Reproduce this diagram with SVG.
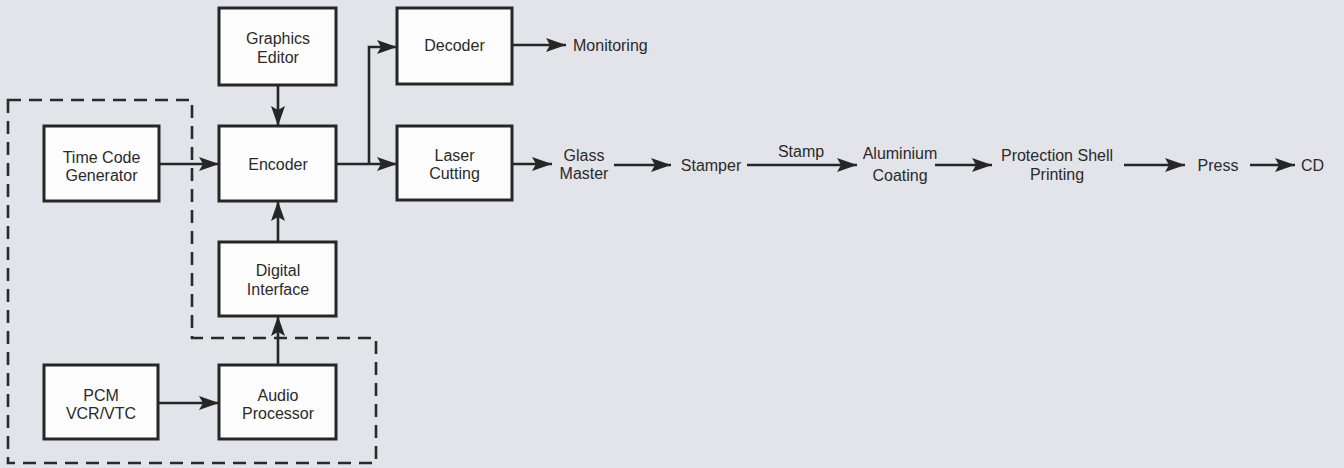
<svg xmlns="http://www.w3.org/2000/svg" width="1344" height="468" viewBox="0 0 1344 468">
  <style>
    .box { fill: #fdfdfd; stroke: #262626; stroke-width: 3; }
    .wire { fill: none; stroke: #262626; stroke-width: 2.6; }
    .dash { fill: none; stroke: #2a2a2a; stroke-width: 2.6; stroke-dasharray: 13 8; }
    text { font-family: "Liberation Sans", Arial, Helvetica, sans-serif; font-size: 16px; fill: #2a2a2a; text-anchor: middle; }
    .left { text-anchor: start; }
  </style>
  <defs>
    <marker id="arrow" viewBox="0 0 20 14" refX="20" refY="7" markerWidth="20" markerHeight="14" markerUnits="userSpaceOnUse" orient="auto">
      <path d="M0,0 L20,7 L0,14 L4,7 Z" fill="#262626"/>
    </marker>
  </defs>

  <rect width="1344" height="468" fill="#e3e4e9"/>

  <!-- dashed grouping outline -->
  <path class="dash" d="M8,100 H192 V338 H376 V463 H8 Z"/>

  <g id="connectors">
    <path class="wire" d="M278,85 V126" marker-end="url(#arrow)"/>
    <path class="wire" d="M159,164 H219" marker-end="url(#arrow)"/>
    <path class="wire" d="M278,242 V201" marker-end="url(#arrow)"/>
    <path class="wire" d="M278,365 V316" marker-end="url(#arrow)"/>
    <path class="wire" d="M158,403 H219" marker-end="url(#arrow)"/>
    <path class="wire" d="M336,164 H397" marker-end="url(#arrow)"/>
    <path class="wire" d="M369,164 V47 H397" marker-end="url(#arrow)"/>
    <path class="wire" d="M512,45 H566" marker-end="url(#arrow)"/>
    <path class="wire" d="M512,164 H552" marker-end="url(#arrow)"/>
    <path class="wire" d="M614,165 H671" marker-end="url(#arrow)"/>
    <path class="wire" d="M747,165 H857" marker-end="url(#arrow)"/>
    <path class="wire" d="M935,165 H992" marker-end="url(#arrow)"/>
    <path class="wire" d="M1124,165 H1185" marker-end="url(#arrow)"/>
    <path class="wire" d="M1250,165 H1295" marker-end="url(#arrow)"/>
    <text x="801" y="157">Stamp</text>
  </g>

  <g id="graphics-editor">
    <rect class="box" x="219" y="8" width="117" height="77"/>
    <text x="278" y="44">Graphics</text>
    <text x="278" y="63">Editor</text>
  </g>
  <g id="encoder">
    <rect class="box" x="219" y="126" width="117" height="75"/>
    <text x="278" y="170">Encoder</text>
  </g>
  <g id="time-code-generator">
    <rect class="box" x="44" y="126" width="115" height="75"/>
    <text x="101.5" y="163">Time Code</text>
    <text x="101.5" y="181">Generator</text>
  </g>
  <g id="digital-interface">
    <rect class="box" x="219" y="242" width="117" height="74"/>
    <text x="278" y="276">Digital</text>
    <text x="278" y="295">Interface</text>
  </g>
  <g id="audio-processor">
    <rect class="box" x="219" y="365" width="117" height="74"/>
    <text x="278" y="401">Audio</text>
    <text x="278" y="419">Processor</text>
  </g>
  <g id="pcm-vcr">
    <rect class="box" x="44" y="365" width="114" height="74"/>
    <text x="101" y="401">PCM</text>
    <text x="101" y="419">VCR/VTC</text>
  </g>
  <g id="decoder">
    <rect class="box" x="397" y="8" width="115" height="76"/>
    <text x="454.5" y="51">Decoder</text>
  </g>
  <g id="laser-cutting">
    <rect class="box" x="397" y="126" width="115" height="74"/>
    <text x="454.5" y="161">Laser</text>
    <text x="454.5" y="179">Cutting</text>
  </g>
  <g id="monitoring">
    <text class="left" x="573" y="51">Monitoring</text>
  </g>
  <g id="glass-master">
    <text x="584" y="161">Glass</text>
    <text x="584" y="179">Master</text>
  </g>
  <g id="stamper">
    <text x="711" y="171">Stamper</text>
  </g>
  <g id="aluminium-coating">
    <text x="900" y="159">Aluminium</text>
    <text x="900" y="181">Coating</text>
  </g>
  <g id="protection-shell">
    <text x="1057" y="161">Protection Shell</text>
    <text x="1057" y="180">Printing</text>
  </g>
  <g id="press">
    <text x="1218" y="171">Press</text>
  </g>
  <g id="cd">
    <text class="left" x="1301" y="171">CD</text>
  </g>
</svg>
